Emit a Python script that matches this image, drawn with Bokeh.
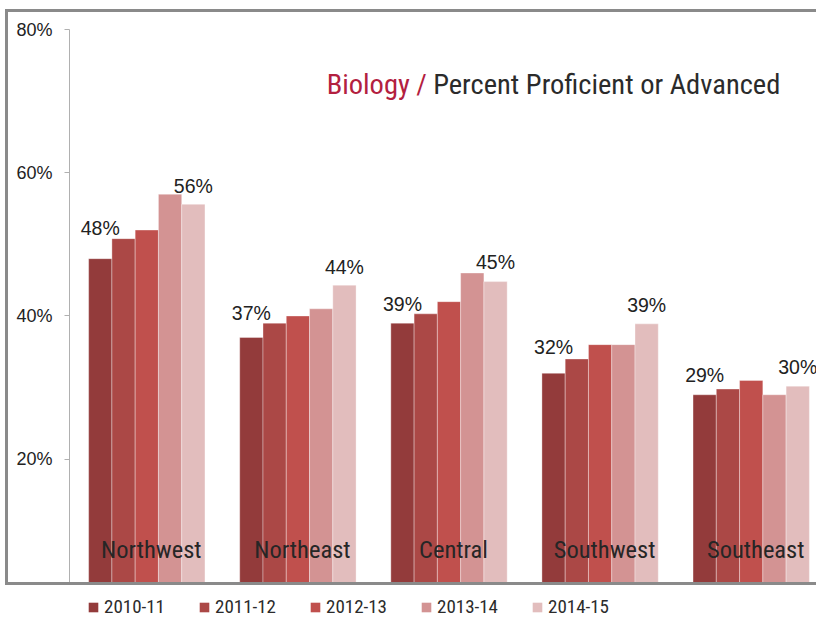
from bokeh.plotting import figure
from bokeh.layouts import column
from bokeh.models import (ColumnDataSource, Range1d, FixedTicker, PrintfTickFormatter,
                          Legend, LegendItem)
from bokeh.core.properties import value
from bokeh.embed import file_html
from bokeh.resources import INLINE

# ---------------- data ----------------
regions = ["Northwest", "Northeast", "Central", "Southwest", "Southeast"]
years = ["2010-11", "2011-12", "2012-13", "2013-14", "2014-15"]
y2010_11 = [48.0, 37.0, 39.0, 32.0, 29.0]
y2011_12 = [50.8, 39.0, 40.3, 34.0, 29.8]
y2012_13 = [52.0, 40.0, 42.0, 36.0, 31.0]
y2013_14 = [57.0, 41.0, 46.0, 36.0, 29.0]
y2014_15 = [55.6, 44.3, 44.8, 38.9, 30.2]
y_ticks = [20, 40, 60, 80]
title_subject = "Biology /"
title_rest = "Percent Proficient or Advanced"

series = [y2010_11, y2011_12, y2012_13, y2013_14, y2014_15]

# ---------------- style ----------------
colors = ["#933b3b", "#ab4846", "#c0504d", "#d39393", "#e2bdbd"]
NARROW = "Roboto Condensed, Liberation Sans Narrow, DejaVu Sans Condensed, sans-serif"
REG = "Liberation Sans"
bar_w = 0.154
first_lift = [30.7, 24.3, 19.0, 26.4, 19.3]   # px nudges of first-bar labels
last_lift = [18.0, 18.0, 19.3, 19.0, 19.0]    # px nudges of last-bar labels
BORDER = "3px solid #8a8a8a"

p = figure(width=811, height=576, output_backend="svg", toolbar_location=None,
           x_range=Range1d(-0.5116, 4.452), y_range=Range1d(1.95, 80),
           x_axis_location=None, margin=(9, 0, 0, 5),
           min_border_left=61, min_border_right=0, min_border_top=17,
           min_border_bottom=0)
p.outline_line_color = None
p.xgrid.visible = False
p.ygrid.visible = False
p.styles = {"border-top": BORDER, "border-left": BORDER, "border-bottom": BORDER}

ya = p.yaxis[0]
ya.ticker = FixedTicker(ticks=y_ticks)
ya.formatter = PrintfTickFormatter(format="%d%%")
ya.axis_line_color = "#b0b0b0"
ya.major_tick_line_color = "#b0b0b0"
ya.major_tick_out = 5
ya.major_tick_in = 0
ya.minor_tick_line_color = None
ya.major_label_standoff = 12
ya.major_label_text_font = REG
ya.major_label_text_font_size = "18px"
ya.major_label_text_color = "#222222"

for k, vals in enumerate(series):
    xs = [i + (k - 2) * bar_w for i in range(len(regions))]
    src = ColumnDataSource(dict(x=xs, top=vals))
    p.vbar(x="x", top="top", bottom=0, width=bar_w, source=src,
           fill_color=colors[k], line_color="white", line_alpha=0.35, line_width=1)

# value labels (first and last year of each region)
lab_x, lab_y, lab_t, lab_off = [], [], [], []
for i in range(len(regions)):
    lab_x.append(i - 2 * bar_w); lab_y.append(y2010_11[i])
    lab_t.append(f"{round(y2010_11[i])}%"); lab_off.append(-first_lift[i])
    lab_x.append(i + 2 * bar_w); lab_y.append(y2014_15[i])
    lab_t.append(f"{round(y2014_15[i])}%"); lab_off.append(-last_lift[i])
p.text(x=lab_x, y=lab_y, text=lab_t, y_offset=lab_off, text_align="center",
       text_baseline="alphabetic", text_font=value(REG), text_font_size="19.5px",
       text_color="#222222")

# region names inside the bars
p.text(x=[i + 0.03 for i in range(len(regions))], y=[7.36] * len(regions), text=regions,
       text_align="center", text_baseline="alphabetic", text_font=value(NARROW),
       text_font_size="24.5px", text_color="#262626")

# chart title (two colours)
p.text(x=[1.854], y=[72.38], text=[title_subject], text_align="right",
       text_baseline="alphabetic", text_font=value(NARROW), text_font_size="28.5px",
       text_color="#b3203f")
p.text(x=[1.895], y=[72.38], text=[title_rest], text_align="left",
       text_baseline="alphabetic", text_font=value(NARROW), text_font_size="28.5px",
       text_color="#2b2b2b")

# ---------------- legend strip ----------------
pl = figure(width=816, height=33, output_backend="svg", toolbar_location=None,
            x_range=Range1d(0, 1), y_range=Range1d(0, 1),
            x_axis_location=None, y_axis_location=None,
            min_border_left=61, min_border_right=0, min_border_top=0, min_border_bottom=0)
pl.outline_line_color = None
pl.xgrid.visible = False
pl.ygrid.visible = False
items = []
for k in range(5):
    # swatch-only renderers: their single bar lies below the visible range
    r = pl.vbar(x=[0.5], top=[-5], bottom=-6, width=0.1, fill_color=colors[k],
                line_color=None)
    items.append(LegendItem(label=years[k], renderers=[r]))
legend = Legend(items=items, orientation="horizontal", location=(26, 0),
                glyph_width=12, glyph_height=12,
                label_text_font=NARROW, label_text_font_size="19px",
                label_text_color="#2b2b2b", label_standoff=5, spacing=33,
                border_line_color=None, background_fill_alpha=0, padding=0, margin=0)
pl.add_layout(legend)

layout = column(p, pl, spacing=0)
open("out.html", "w").write(file_html(layout, INLINE))
